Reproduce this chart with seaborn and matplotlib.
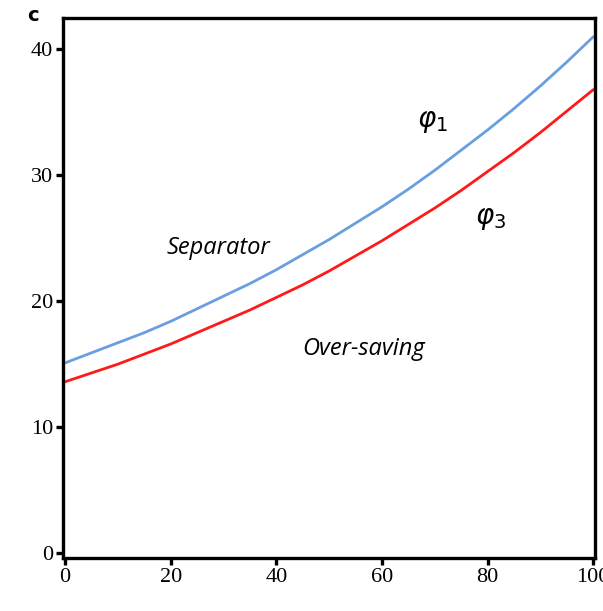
import matplotlib
matplotlib.use("Agg")
import matplotlib.pyplot as plt
import seaborn as sns
import pandas as pd

x_vals = [0, 5, 10, 15, 20, 25, 30, 35, 40, 45, 50,
          55, 60, 65, 70, 75, 80, 85, 90, 95, 100]
phi1 = [15.1, 15.9, 16.7, 17.5, 18.4, 19.4, 20.4, 21.4, 22.5, 23.7, 24.9,
        26.2, 27.5, 28.9, 30.4, 32.0, 33.6, 35.3, 37.1, 39.0, 41.0]
phi3 = [13.6, 14.3, 15.0, 15.8, 16.6, 17.5, 18.4, 19.3, 20.3, 21.3, 22.4,
        23.6, 24.8, 26.1, 27.4, 28.8, 30.3, 31.8, 33.4, 35.1, 36.8]
x_ticks = [0, 20, 40, 60, 80, 100]
y_ticks = [0, 10, 20, 30, 40]

df = pd.DataFrame({
    "x": x_vals * 2,
    "c": phi1 + phi3,
    "series": ["phi1"] * len(x_vals) + ["phi3"] * len(x_vals),
})

sns.set_style("white")
fig = plt.figure(figsize=(6.03, 6.11), dpi=100)
ax = fig.add_axes([0.1045, 0.0867, 0.882, 0.884])
sns.lineplot(data=df, x="x", y="c", hue="series",
             palette={"phi1": "#6a9ee0", "phi3": "#ff1a1a"},
             linewidth=2.0, legend=False, ax=ax)

ax.set_xlim(-0.4, 100.3)
ax.set_ylim(-0.4, 42.5)
ax.set_xticks(x_ticks)
ax.set_yticks(y_ticks)
ax.set_xlabel("")
ax.set_ylabel("")
for s in ax.spines.values():
    s.set_linewidth(2.4)
    s.set_color("black")
    s.set_visible(True)
ax.tick_params(axis="both", direction="out", length=5, width=2.4,
               colors="black", pad=2, bottom=True, left=True,
               top=False, right=False)
for lab in ax.get_xticklabels() + ax.get_yticklabels():
    lab.set_fontfamily("Liberation Serif")
    lab.set_fontsize(16)

fig.text(0.055, 0.975, "c", fontsize=14, fontweight="bold",
         family="DejaVu Sans", ha="center", va="center", color="black")

ax.text(29, 24.2, "Separator", fontsize=17, style="italic",
        family="Open Sans", ha="center", va="center", color="black")
ax.text(56.5, 16.2, "Over-saving", fontsize=17, style="italic",
        family="Open Sans", ha="center", va="center", color="black")
ax.text(69.5, 34.3, r"$\varphi_1$", fontsize=20, ha="center", va="center",
        color="black")
ax.text(80.5, 26.6, r"$\varphi_3$", fontsize=20, ha="center", va="center",
        color="black")

fig.savefig("out.png", dpi=100)
